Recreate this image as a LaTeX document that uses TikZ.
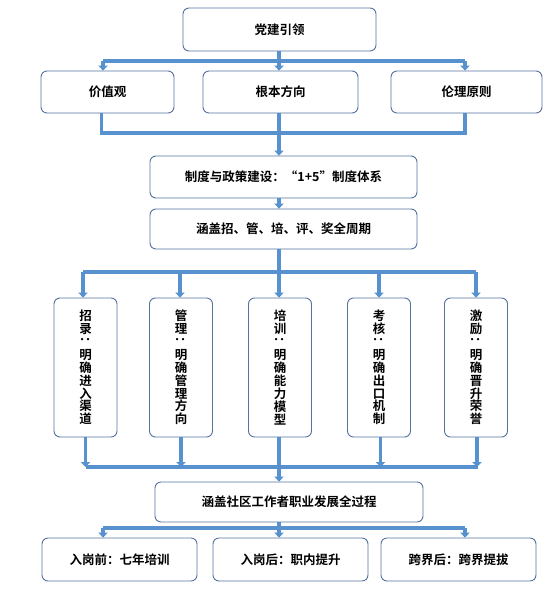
\documentclass[tikz,border=0pt]{standalone}
\usepackage{fontspec}
\setmainfont{Noto Sans CJK SC}[BoldFont={Noto Sans CJK SC Bold}]
\usepackage{graphicx}
\usetikzlibrary{arrows.meta}
\definecolor{boxc}{RGB}{84,114,160}
\definecolor{linec}{RGB}{88,146,206}
\tikzset{
  box/.style={draw=boxc, line width=0.9pt, rounded corners=6pt, fill=white, inner sep=0pt,
    font=\fontsize{12.5}{13}\selectfont\bfseries, text=black, align=center},
  vbox/.style={box, minimum width=63pt, minimum height=139pt, font=\fontsize{12.5}{12.9}\selectfont\bfseries},
  conn/.style={draw=linec, line width=3.4pt, line join=miter},
  arr/.style={conn, -{Triangle[width=9.5pt,length=5pt]}},
}
\newcommand{\vcolon}{\rotatebox[origin=c]{-90}{：}}
\begin{document}
\begin{tikzpicture}[x=1pt,y=-1pt]
\useasboundingbox (0,0) rectangle (559,602);
% nodes
\node[box, minimum width=193pt, minimum height=43pt] (top) at (279.5,29.5) {党建引领};
\node[box, minimum width=133pt, minimum height=42pt] (jia) at (107.5,92) {价值观};
\node[box, minimum width=155pt, minimum height=42pt] (gen) at (280.5,92) {根本方向};
\node[box, minimum width=151pt, minimum height=42pt] (li) at (466.5,92) {伦理原则};
\node[box, minimum width=267pt, minimum height=42pt] (zhidu) at (283.5,177) {制度与政策建设：“1+5”制度体系};
\node[box, minimum width=267pt, minimum height=40pt] (cover) at (283.5,229) {涵盖招、管、培、评、奖全周期};
\node[vbox] (v1) at (85.5,367.5) {招\\录\\\vcolon\\明\\确\\进\\入\\渠\\道};
\node[vbox] (v2) at (181,367.5) {管\\理\\\vcolon\\明\\确\\管\\理\\方\\向};
\node[vbox] (v3) at (280,367.5) {培\\训\\\vcolon\\明\\确\\能\\力\\模\\型};
\node[vbox] (v4) at (379,367.5) {考\\核\\\vcolon\\明\\确\\出\\口\\机\\制};
\node[vbox] (v5) at (476,367.5) {激\\励\\\vcolon\\明\\确\\晋\\升\\荣\\誉};
\node[box, minimum width=268pt, minimum height=40pt] (career) at (289,502) {涵盖社区工作者职业发展全过程};
\node[box, minimum width=155pt, minimum height=43pt] (b1) at (119.5,559.5) {入岗前：七年培训};
\node[box, minimum width=155pt, minimum height=43pt] (b2) at (290.5,559.5) {入岗后：职内提升};
\node[box, minimum width=155pt, minimum height=43pt] (b3) at (458.5,559.5) {跨界后：跨界提拔};
% helper coordinates
\coordinate (stem) at (279,0);
\coordinate (h1) at (0,61);
\coordinate (h2) at (0,133);
\coordinate (h3) at (0,272);
\coordinate (h4) at (0,467);
\coordinate (h5) at (0,528);
% top split
\draw[conn] ([xshift=-4.5pt]jia.north |- h1) -- ([xshift=-1.5pt]li.north |- h1);
\draw[arr] (stem |- top.south) -- (stem |- gen.north);
\draw[arr] ([xshift=-4.5pt]jia.north |- h1) -- ([xshift=-4.5pt]jia.north);
\draw[arr] ([xshift=-1.5pt]li.north |- h1) -- ([xshift=-1.5pt]li.north);
% merge
\draw[conn] ([xshift=-6pt]jia.south) -- ([xshift=-6pt]jia.south |- h2) -- ([xshift=-1.5pt]li.south |- h2) -- ([xshift=-1.5pt]li.south);
\draw[arr] (stem |- gen.south) -- (stem |- zhidu.north);
\draw[arr] (stem |- zhidu.south) -- (stem |- cover.north);
% five-way split
\draw[conn] ([xshift=-2.5pt]v1.north |- h3) -- (v5.north |- h3);
\draw[arr] (stem |- cover.south) -- (stem |- v3.north);
\draw[arr] ([xshift=-2.5pt]v1.north |- h3) -- ([xshift=-2.5pt]v1.north);
\draw[arr] ([xshift=-1pt]v2.north |- h3) -- ([xshift=-1pt]v2.north);
\draw[arr] (v4.north |- h3) -- (v4.north);
\draw[arr] (v5.north |- h3) -- (v5.north);
% five-way merge
\draw[conn] (v1.south |- h4) -- ([xshift=2pt]v5.south |- h4);
\draw[arr] (v1.south) -- (v1.south |- h4);
\draw[arr] (v2.south) -- (v2.south |- h4);
\draw[arr] ([xshift=1.5pt]v4.south) -- ([xshift=1.5pt]v4.south |- h4);
\draw[arr] ([xshift=1pt]v5.south) -- ([xshift=1pt]v5.south |- h4);
\draw[arr] (stem |- v3.south) -- (stem |- career.north);
% bottom split
\draw[conn] ([xshift=-16.5pt]b1.north |- h5) -- ([xshift=6.5pt]b3.north |- h5);
\draw[arr] (stem |- career.south) -- (stem |- b2.north);
\draw[arr] ([xshift=-16.5pt]b1.north |- h5) -- ([xshift=-16.5pt]b1.north);
\draw[arr] ([xshift=6.5pt]b3.north |- h5) -- ([xshift=6.5pt]b3.north);
\end{tikzpicture}
\end{document}
